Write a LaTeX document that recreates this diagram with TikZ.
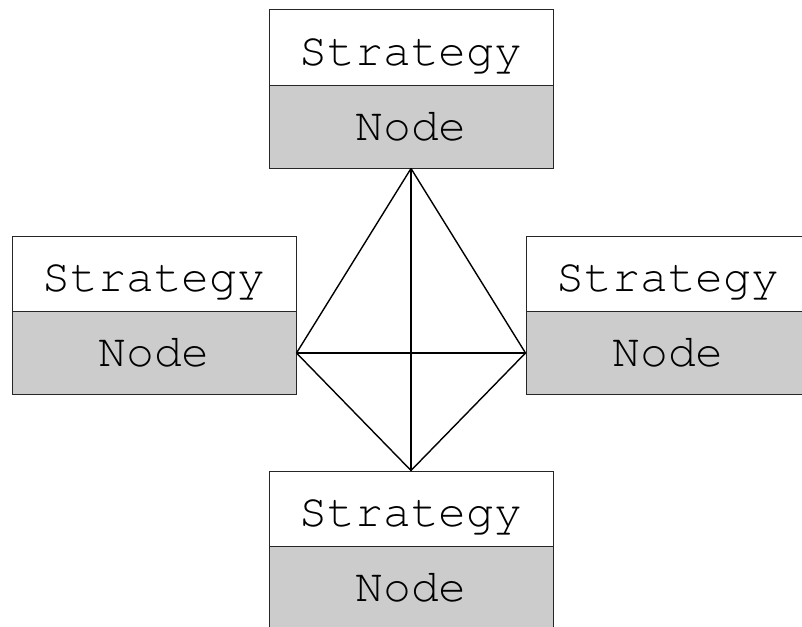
\documentclass[tikz,border=0pt]{standalone}
\usepackage{fontspec}
\setmonofont{texgyrecursor-regular.otf}
\begin{document}
\begin{tikzpicture}[x=1pt,y=-1pt,
  part/.style={draw=black!85,line width=1pt,minimum width=284pt,inner sep=0pt,
    font=\ttfamily\fontsize{46.5}{50}\selectfont},
  upper/.style={part,fill=white,minimum height=75pt,text height=35pt,text depth=0pt},
  lower/.style={part,fill=black!20,minimum height=83pt,text height=27pt,text depth=0pt},
  link/.style={draw=black,line width=1.4pt}]
\useasboundingbox (0,0) rectangle (802,626);
\clip (0,0) rectangle (802,626);
% top
\node[upper] (tS) at (411,47.5) {Strategy};
\node[lower] (tN) at (411,126.5) {Node};
% left
\node[upper] (lS) at (154,273.5) {Strategy};
\node[lower] (lN) at (154,353) {Node};
% right
\node[upper] (rS) at (668,273.5) {Strategy};
\node[lower] (rN) at (668,353) {Node};
% bottom
\node[upper] (bS) at (411,508.5) {Strategy};
\node[lower] (bN) at (411,587.5) {Node};
% links between the four nodes
\draw[link] (tN.south) -- (lN.east);
\draw[link] (tN.south) -- (rN.west);
\draw[link] (tN.south) -- (bS.north);
\draw[link] (lN.east) -- (rN.west);
\draw[link] (lN.east) -- (bS.north);
\draw[link] (rN.west) -- (bS.north);
\end{tikzpicture}
\end{document}
